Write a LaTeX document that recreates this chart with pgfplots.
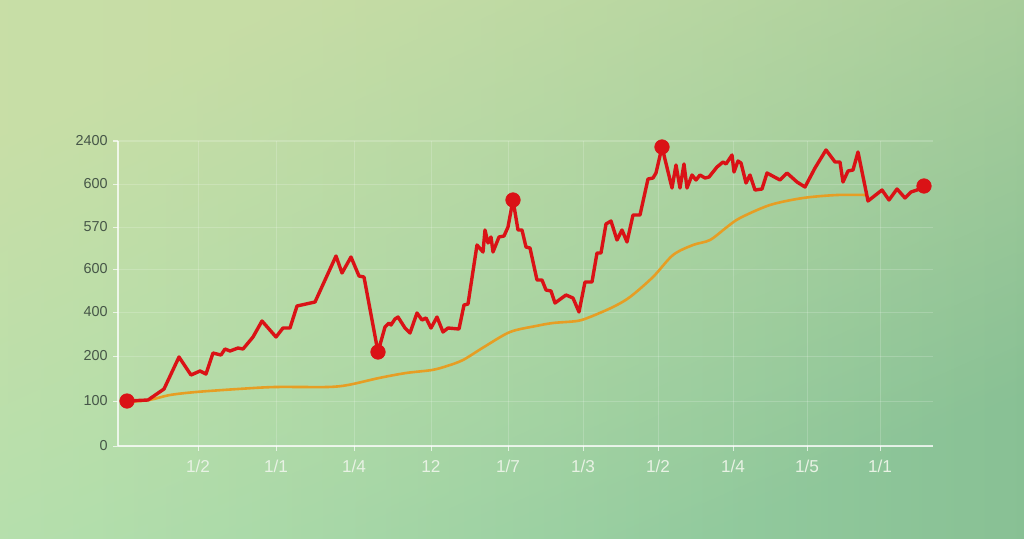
\documentclass[border=0pt]{standalone}
\usepackage{pgfplots}
\pgfplotsset{compat=1.18}
\usepackage{fontspec}
\setmainfont{Liberation Sans}
\usetikzlibrary{fadings}
\definecolor{bgleft}{RGB}{168,225,178}
\definecolor{bgright}{RGB}{136,192,148}
\definecolor{bgtop}{RGB}{208,222,164}
\definecolor{redline}{RGB}{218,18,22}
\definecolor{orangeline}{RGB}{230,158,36}
\definecolor{ylab}{RGB}{70,86,72}
\definecolor{xlab}{RGB}{232,242,228}
\begin{document}
\begin{tikzpicture}
\path[use as bounding box] (0,0) rectangle (512pt,269pt);
\shade[left color=bgleft, right color=bgright] (-4pt,-4pt) rectangle (516pt,273pt);
\fill[bgtop, path fading=south, fading angle=40, fill opacity=0.8] (-4pt,-4pt) rectangle (516pt,273pt);
\begin{axis}[
  at={(59pt,46pt)}, anchor=south west,
  scale only axis, width=407.5pt, height=152.5pt,
  xmin=118, xmax=933, ymin=141, ymax=446, y dir=reverse,
  clip=false,
  axis x line*=bottom, axis y line*=left,
  axis line style={white, opacity=0.75, line width=0.6pt},
  xtick={198,276,354,431,508,583,658,733,807,880},
  xticklabels={1/2,1/1,1/4,12,1/7,1/3,1/2,1/4,1/5,1/1},
  ytick={446,401,356,312,269,227,184,141},
  yticklabels={0,100,200,400,600,570,600,2400},
  tick align=outside, major tick length=2.5pt,
  tick style={white, opacity=0.7, line width=0.5pt},
  grid=major,
  major grid style={white, opacity=0.18, line width=0.5pt},
  xticklabel style={font=\fontsize{8.6}{10}\selectfont, text=xlab, inner sep=0pt, yshift=-4.5pt},
  yticklabel style={font=\fontsize{7.2}{9}\selectfont, text=ylab, inner sep=2.5pt},
]
\addplot[orangeline, line width=1.3pt, smooth, no marks] coordinates {
(128,402) (149,400) (170,395) (196,392) (238,389) (275,387) (327,387) (348,385) (379,378) (406,373) (432,370) (447,366) (463,360) (484,347) (510,332) (536,326) (553,323) (577,321) (590,317) (613,307) (630,297) (653,277) (673,255) (693,245) (710,240) (727,227) (740,218) (770,205) (803,198) (837,195) (866,195)
};
\addplot[redline, line width=1.7pt, line join=round, no marks] coordinates {
(127,401) (148,400) (164,389) (179,357) (191,375) (200,371) (206,374) (213,353) (221,355) (225,349) (230,351) (238,348) (243,349) (253,337) (262,321) (276,337) (283,328) (290,328) (297,306) (315,302) (336,256) (342,273) (351,257) (359,276) (364,277) (378,352) (385,327) (389,323) (391,325) (395,319) (398,317) (405,328) (410,333) (417,313) (422,320) (426,318) (431,328) (437,317) (443,332) (448,328) (459,329) (464,305) (468,304) (477,245) (483,252) (485,230) (488,243) (491,237) (493,252) (499,237) (504,236) (508,227) (513,200) (518,230) (522,230) (526,247) (530,248) (537,280) (542,280) (546,290) (551,291) (555,303) (566,295) (573,298) (579,312) (585,282) (592,282) (597,253) (601,253) (606,224) (611,221) (617,240) (622,230) (627,242) (633,215) (640,215) (648,179) (653,178) (656,173) (662,147) (672,188) (676,165) (680,188) (684,164) (687,188) (692,175) (696,180) (700,175) (705,178) (709,177) (717,167) (723,162) (726,164) (732,155) (734,172) (738,161) (741,163) (746,183) (750,175) (755,190) (762,189) (767,173) (780,180) (787,173) (797,182) (805,187) (815,168) (826,150) (835,162) (840,162) (843,182) (848,171) (853,170) (858,152) (868,201) (882,190) (889,200) (897,189) (905,198) (911,192) (917,190) (924,186)
};
\addplot[only marks, mark=*, mark size=3.6pt, mark options={fill=redline, draw=redline}] coordinates {
(127,401) (378,352) (513,200) (662,147) (924,186)
};
\end{axis}
\end{tikzpicture}
\end{document}
